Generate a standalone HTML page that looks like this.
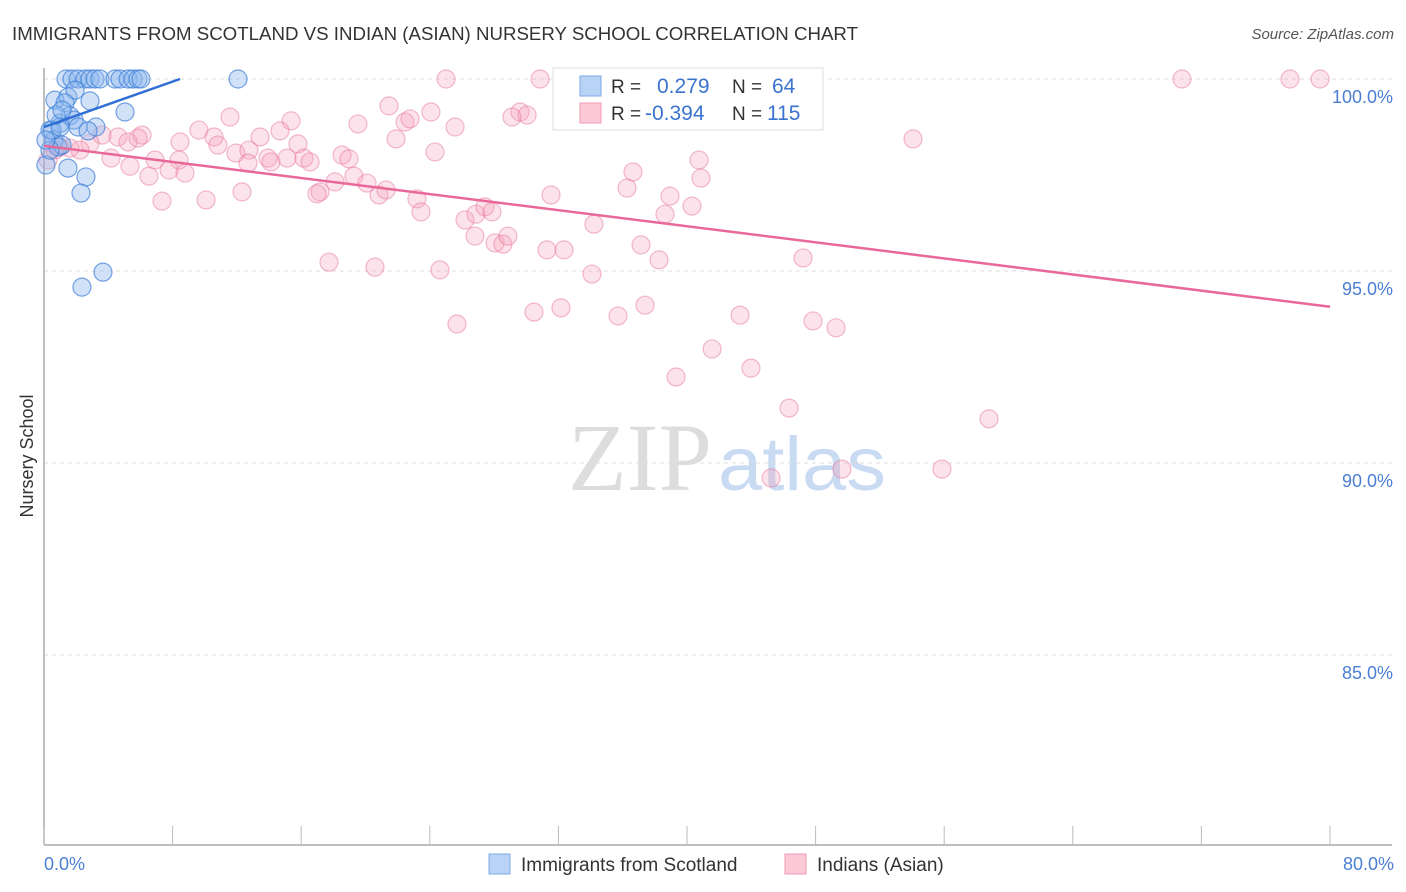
<!DOCTYPE html>
<html><head><meta charset="utf-8"><style>
body{margin:0;background:#fff;font-family:"Liberation Sans",sans-serif;}
#wrap{position:relative;width:1406px;height:892px;overflow:hidden;}
</style></head><body>
<div id="wrap">
<svg id="svg" width="1406" height="892" xmlns="http://www.w3.org/2000/svg">
<text x="12" y="40" font-size="18" fill="#333" textLength="846" lengthAdjust="spacingAndGlyphs">IMMIGRANTS FROM SCOTLAND VS INDIAN (ASIAN) NURSERY SCHOOL CORRELATION CHART</text>
<text x="1394" y="39" font-size="15" fill="#555" font-style="italic" text-anchor="end">Source: ZipAtlas.com</text>
<text transform="translate(33,456) rotate(-90)" font-size="18" fill="#333" text-anchor="middle">Nursery School</text>
<text x="712" y="490" font-size="96" fill="#ddd" text-anchor="end" font-family="Liberation Serif,serif">ZIP</text>
<text x="718" y="490" font-size="76" fill="#c9daf3" textLength="168" lengthAdjust="spacingAndGlyphs">atlas</text>
<g id="grid"></g><g id="pts"></g><g id="lines"></g>
<g>
<rect x="553" y="68" width="270" height="62" fill="#fff" stroke="#ddd"/>
<rect x="580" y="76" width="21" height="20" fill="#b8d3f5" stroke="#7eaae8"/>
<rect x="580" y="103" width="21" height="20" fill="#fcc9d7" stroke="#f19ab5"/>
<text x="611" y="93" font-size="19" fill="#333">R = <tspan fill="#3a73d0" x="657" font-size="21">0.279</tspan><tspan fill="#333" x="732">N = </tspan><tspan fill="#3a73d0" x="772" font-size="21">64</tspan></text>
<text x="611" y="120" font-size="19" fill="#333">R = <tspan fill="#3a73d0" x="645" font-size="21">-0.394</tspan><tspan fill="#333" x="732">N = </tspan><tspan fill="#3a73d0" x="767" font-size="21">115</tspan></text>
</g>
<text x="44" y="870" font-size="18" fill="#4a7fd4">0.0%</text>
<text x="1394" y="870" font-size="18" fill="#4a7fd4" text-anchor="end">80.0%</text>
<rect x="489" y="854" width="21" height="20" fill="#b8d3f5" stroke="#7eaae8"/>
<text x="521" y="871" font-size="19" fill="#333">Immigrants from Scotland</text>
<rect x="785" y="854" width="21" height="20" fill="#fcc9d7" stroke="#f19ab5"/>
<text x="817" y="871" font-size="19" fill="#333">Indians (Asian)</text>
</svg></div>
<script>
const yTicks=[100,95,90,85];
const xTickVals=[0,8,16,24,32,40,48,56,64,72,80];
const blueX=[1.37,1.74,2.12,2.55,2.86,3.17,3.48,4.42,4.73,5.23,5.54,5.85,6.03,12.07,0.68,1.49,1.93,1.31,2.86,1.00,0.37,0.62,0.87,1.12,1.62,1.87,2.12,3.23,2.74,5.04,0.12,0.37,1.49,2.61,2.30,3.67,2.36,0.50,1.00,0.12,0.75,1.12];
const blueY=[100,100,100,100,100,100,100,100,100,100,100,100,100,100,99.45,99.53,99.71,99.38,99.43,98.85,98.67,98.41,98.23,98.28,99.04,98.93,98.75,98.75,98.65,99.14,97.76,98.15,97.68,97.45,97.03,94.97,94.58,98.67,98.75,98.41,99.06,99.19];
const pinkX=[70.79,77.51,79.38,46.84,25.01,30.86,54.06,11.57,21.46,24.07,29.61,30.05,29.11,15.37,19.53,22.46,22.77,25.57,21.90,24.32,9.64,6.10,8.46,10.58,10.82,11.94,12.75,13.44,14.68,15.80,12.69,13.93,14.12,15.12,16.17,16.55,18.54,18.97,4.60,5.23,5.85,3.61,2.86,2.24,1.62,1.00,0.68,0.25,4.17,5.35,6.53,6.91,8.40,8.77,7.78,7.34,10.08,12.32,17.17,16.98,18.10,19.28,20.09,20.84,21.28,23.20,23.45,26.19,26.87,27.43,27.87,26.81,28.06,28.55,28.86,31.29,32.35,31.54,34.21,36.64,36.27,37.14,38.94,38.63,40.31,40.75,40.87,38.26,47.22,34.09,24.63,20.59,17.73,25.69,30.48,32.16,35.71,37.39,43.30,47.84,49.27,41.56,39.32,43.98,46.35,58.79,49.64,55.86,45.23];
const pinkY=[100,100,100,100,100,100,98.44,99.01,99.30,99.14,99.14,99.06,99.01,98.91,98.83,98.88,98.96,98.75,98.44,98.10,98.67,98.54,98.36,98.49,98.28,98.07,98.15,98.49,98.65,98.31,97.81,97.94,97.84,97.94,97.94,97.84,98.02,97.92,98.49,98.36,98.46,98.54,98.33,98.15,98.20,98.23,98.15,97.89,97.94,97.73,97.47,97.89,97.89,97.55,97.63,96.82,96.85,97.06,97.06,97.01,97.32,97.47,97.29,96.98,97.11,96.88,96.54,96.33,96.48,96.67,96.54,95.91,95.73,95.70,95.91,95.55,95.55,96.98,96.22,97.58,97.16,95.68,96.95,96.48,96.69,97.89,97.42,95.29,95.34,94.92,95.03,95.10,95.23,93.62,93.93,94.04,93.83,94.11,93.85,93.70,93.52,92.97,92.24,92.47,91.43,91.15,89.84,89.84,89.61];
const blueTrend=[0,98.75,8.46,100];
const pinkTrend=[0,98.26,80,94.07];
const X0=44,XS=16.075,Y0=79,YS=38.4;
const xs=v=>X0+v*XS, ys=v=>Y0+(100-v)*YS;
const NS='http://www.w3.org/2000/svg';
function mk(tag,attrs,parent){const e=document.createElementNS(NS,tag);for(const k in attrs)e.setAttribute(k,attrs[k]);document.getElementById(parent).appendChild(e);return e;}
yTicks.forEach(t=>{
 const l=mk('line',{x1:44,x2:1392,y1:ys(t),y2:ys(t),stroke:'#ddd','stroke-dasharray':'4,4'},'grid');
 
 
 const tx=mk('text',{x:1393,y:ys(t)+24,'font-size':18,fill:'#4a7fd4','text-anchor':'end'},'grid');
 tx.textContent=t.toFixed(1)+'%';
 
 
});
let ax=mk('line',{x1:44,x2:44,y1:68,y2:845,stroke:'#aaa','stroke-width':1.5},'grid');


ax=mk('line',{x1:44,x2:1392,y1:845,y2:845,stroke:'#aaa','stroke-width':1.5},'grid');


xTickVals.forEach(t=>{
 const l=mk('line',{x1:xs(t),x2:xs(t),y1:826,y2:845,stroke:'#bbb'},'grid');
 
 
});
pinkX.forEach((v,i)=>{
 const c=mk('circle',{cx:xs(v),cy:ys(pinkY[i]),r:9,fill:'rgba(246,160,187,0.3)',stroke:'rgba(232,120,158,0.5)','stroke-width':1.2},'pts');
 
 
});
blueX.forEach((v,i)=>{
 const c=mk('circle',{cx:xs(v),cy:ys(blueY[i]),r:9,fill:'rgba(140,182,238,0.4)',stroke:'rgba(60,125,215,0.7)','stroke-width':1.2},'pts');
 
 
});
let tl=mk('line',{x1:xs(pinkTrend[0]),y1:ys(pinkTrend[1]),x2:xs(pinkTrend[2]),y2:ys(pinkTrend[3]),stroke:'#e8689a','stroke-width':2.5},'lines');


tl=mk('line',{x1:xs(blueTrend[0]),y1:ys(blueTrend[1]),x2:xs(blueTrend[2]),y2:ys(blueTrend[3]),stroke:'#2f6fd6','stroke-width':2.5},'lines');


</script>
</body></html>
